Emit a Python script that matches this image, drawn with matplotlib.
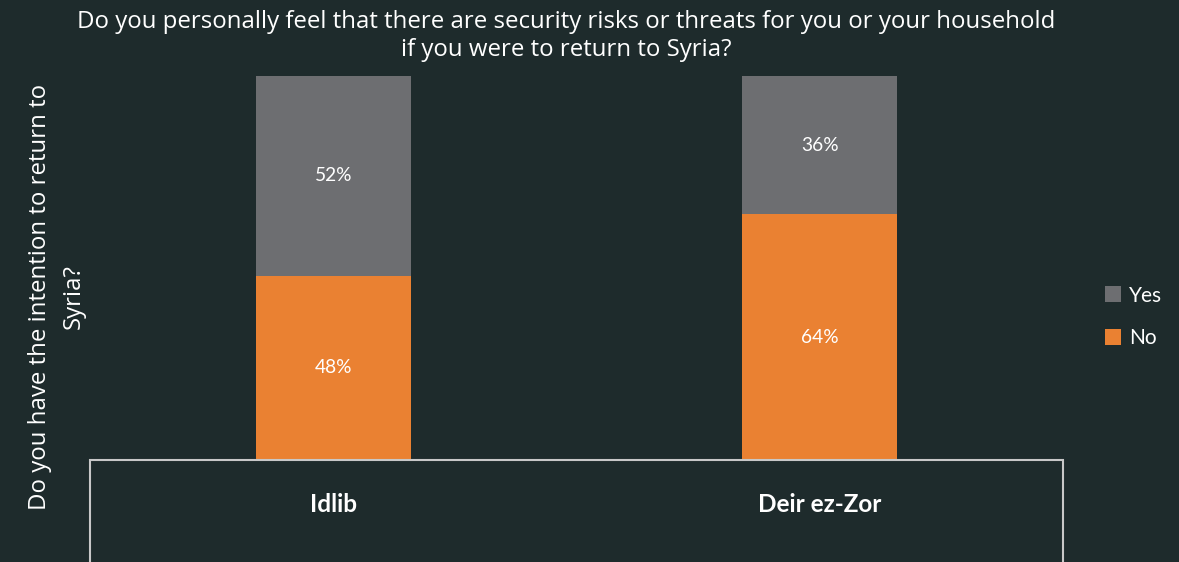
import matplotlib.pyplot as plt
from matplotlib.patches import Rectangle

# Survey shares (%) by governorate of origin
regions = ['Idlib', 'Deir ez-Zor']
no_share = [48, 64]
yes_share = [52, 36]

bg = '#1e2b2c'
gray = '#6d6e71'
orange = '#ea8132'

W, H = 1179, 562
fig = plt.figure(figsize=(W / 100, H / 100), dpi=100, facecolor=bg)

# axes placed in pixel terms: x 90..1063, y 76..460 (from top)
ax = fig.add_axes([90 / W, 1 - 460 / H, (1063 - 90) / W, (460 - 76) / H])
ax.set_facecolor(bg)

x = range(len(regions))
bw = 0.318
b_no = ax.bar(x, no_share, width=bw, color=orange, label='No')
b_yes = ax.bar(x, yes_share, width=bw, bottom=no_share, color=gray, label='Yes')

for bars in (b_no, b_yes):
    ax.bar_label(bars, labels=[f'{v:.0f}%' for v in bars.datavalues],
                 label_type='center', color='white', fontsize=13.8, family='Lato')

ax.set_xlim(-0.5, 1.5)
ax.set_ylim(0, 100)
ax.set_yticks([])
ax.set_xticks(list(x))
ax.set_xticklabels(regions, color='white', fontsize=17.5, fontweight='bold', family='Lato')
ax.tick_params(axis='x', length=0, pad=24)
for s in ax.spines.values():
    s.set_visible(False)

# outlined box under the bars holding the category labels
fig.add_artist(Rectangle((90 / W, -0.05), (1063 - 90) / W, 0.05 + 1 - 460 / H,
                         transform=fig.transFigure, fill=False,
                         edgecolor='#c8c8c8', linewidth=1.5))

fig.text(566 / W, 1 - 36 / H,
         'Do you personally feel that there are security risks or threats for you or your household\n'
         'if you were to return to Syria?',
         ha='center', va='center', color='white', fontsize=17.3, family='Open Sans',
         linespacing=1.23)

fig.text(57 / W, 1 - 297 / H, 'Do you have the intention to return to\nSyria?',
         ha='center', va='center', rotation=90, color='white', fontsize=17.3,
         family='Open Sans', linespacing=1.55)

handles, labels = ax.get_legend_handles_labels()
leg = fig.legend(handles[::-1], labels[::-1], loc='center left',
                 bbox_to_anchor=(1086 / W, 1 - 317 / H), frameon=False,
                 handlelength=0.8, handleheight=0.8, handletextpad=0.35,
                 labelspacing=1.1, prop={'family': 'Lato', 'size': 15})
for t in leg.get_texts():
    t.set_color('white')

fig.savefig('out.png', dpi=100, facecolor=bg)
